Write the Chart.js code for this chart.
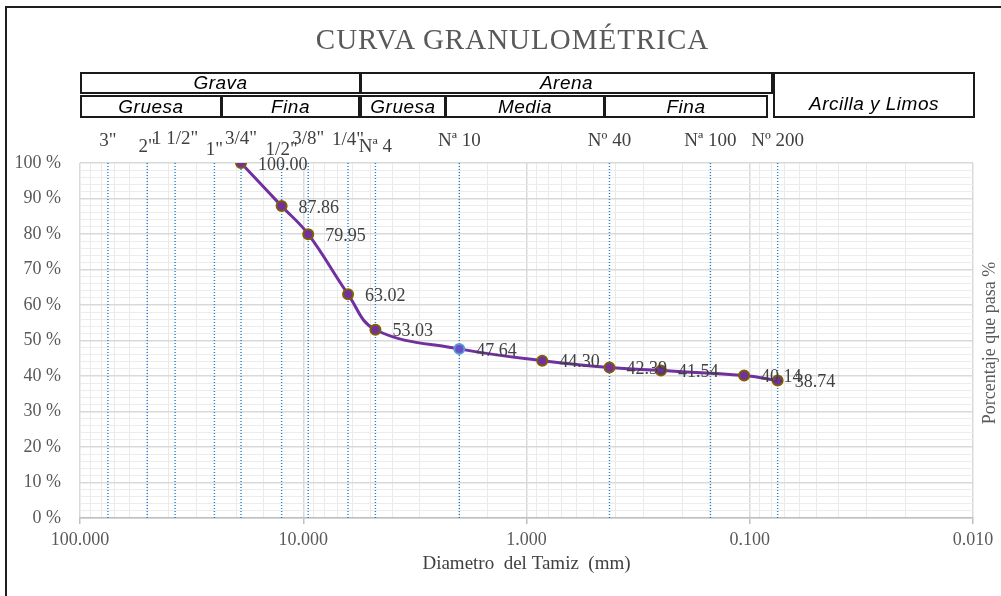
<!DOCTYPE html>
<html>
<head>
<meta charset="utf-8">
<script src="https://cdn.jsdelivr.net/npm/chart.js@4.4.0/dist/chart.umd.min.js"></script>
<style>
  body { margin:0; background:#fff; }
  #wrap { position:relative; width:1001px; height:596px; overflow:hidden; background:#fff; }
  #frame { position:absolute; left:5px; top:6px; width:1100px; height:700px; border:2px solid #1f1f1f; }
  canvas { position:absolute; left:0; top:0; }
  .title { position:absolute; left:24px; width:977px; top:25px; line-height:28px; text-align:center;
           font-family:'Liberation Serif', serif; font-size:29px; letter-spacing:1px; color:#595959; }
  .cell { position:absolute; box-sizing:border-box; border:2px solid #1a1a1a; display:flex;
          align-items:center; justify-content:center; font-family:'Liberation Sans', Arial, sans-serif;
          font-style:italic; font-size:19px; letter-spacing:0.5px; color:#000; }
</style>
</head>
<body>
<div id="wrap">
  <div id="frame"></div>
  <canvas id="chart" width="1001" height="596"></canvas>
  <div class="title">CURVA GRANULOMÉTRICA</div>

  <!-- soil classification table above the plot -->
  <div class="cell" style="left:80px; top:72px; width:281px; height:22px;">Grava</div>
  <div class="cell" style="left:360px; top:72px; width:413px; height:22px;">Arena</div>
  <div class="cell" style="left:773px; top:72px; width:202px; height:46px; align-items:flex-end; padding-bottom:1px;">Arcilla y Limos</div>
  <div class="cell" style="left:80px; top:95px; width:142px; height:23px;">Gruesa</div>
  <div class="cell" style="left:221px; top:95px; width:139px; height:23px;">Fina</div>
  <div class="cell" style="left:360px; top:95px; width:86px; height:23px;">Gruesa</div>
  <div class="cell" style="left:445px; top:95px; width:160px; height:23px;">Media</div>
  <div class="cell" style="left:604px; top:95px; width:164px; height:23px;">Fina</div>
</div>

<script>
// sample: sieve opening (mm) and % passing
const diameters = [19.0, 12.5, 9.5, 6.3, 4.75, 2.0, 0.85, 0.425, 0.25, 0.106, 0.075];
const passing   = [100.00, 87.86, 79.95, 63.02, 53.03, 47.64, 44.30, 42.39, 41.54, 40.14, 38.74];

// reference sieves (dotted lines + labels on top)
const sieveMm    = [75, 50, 37.5, 25, 19, 12.5, 9.5, 6.3, 4.75, 2.0, 0.425, 0.15, 0.075];
const sieveNames = ['3"', '2"', '1 1/2"', '1"', '3/4"', '1/2"', '3/8"', '1/4"', 'Nª 4', 'Nª 10', 'Nº 40', 'Nª 100', 'Nº 200'];

const SERIF = "'Liberation Serif', 'Times New Roman', serif";
const isDecade = v => Math.abs(Math.log10(v) - Math.round(Math.log10(v))) < 1e-6;

const overlay = {
  id: 'overlay',
  beforeDatasetsDraw(chart) {
    const { ctx, chartArea, scales: { x } } = chart;
    ctx.save();
    ctx.strokeStyle = '#1F7FD0';
    ctx.lineWidth = 1.4;
    ctx.setLineDash([1, 2]);
    sieveMm.forEach(d => {
      const px = x.getPixelForValue(d);
      ctx.beginPath();
      ctx.moveTo(px, chartArea.top);
      ctx.lineTo(px, chartArea.bottom);
      ctx.stroke();
    });
    ctx.restore();
  },
  afterDatasetsDraw(chart) {
    const { ctx, chartArea, scales: { x } } = chart;
    // staggered sieve names, like the Excel original
    const dy = [-22, -16, -24, -13, -24, -13, -24, -23, -16, -22, -22, -22, -22];
    ctx.save();
    ctx.font = '19px ' + SERIF;
    ctx.fillStyle = '#404040';
    ctx.textAlign = 'center';
    ctx.textBaseline = 'middle';
    sieveNames.forEach((n, i) => {
      ctx.fillText(n, x.getPixelForValue(sieveMm[i]), chartArea.top + dy[i]);
    });

    // value labels to the right of each point
    ctx.font = '18px ' + SERIF;
    ctx.textAlign = 'left';
    const meta = chart.getDatasetMeta(0);
    meta.data.forEach((pt, i) => {
      ctx.fillText(passing[i].toFixed(2), pt.x + 17, pt.y + 2);
    });

    // right side title, reading bottom to top
    ctx.translate(990, 343);
    ctx.rotate(-Math.PI / 2);
    ctx.textAlign = 'center';
    ctx.fillStyle = '#595959';
    ctx.fillText('Porcentaje que pasa %', 0, 0);
    ctx.restore();
  }
};

new Chart(document.getElementById('chart'), {
  type: 'line',
  data: {
    datasets: [{
      data: diameters.map((d, i) => ({ x: d, y: passing[i] })),
      borderColor: '#7030A0',
      borderWidth: 3,
      tension: 0.4,
      pointRadius: 5,
      pointBorderWidth: 2,
      pointBackgroundColor: c => c.dataIndex === 5 ? '#6A50C8' : '#7030A0',
      pointBorderColor: c => c.dataIndex === 5 ? '#5B9BD5' : '#7F6000',
      fill: false
    }]
  },
  options: {
    responsive: false,
    animation: false,
    layout: { padding: { top: 163, right: 28, left: 0, bottom: 0 } },
    plugins: { legend: { display: false }, tooltip: { enabled: false } },
    scales: {
      x: {
        type: 'logarithmic',
        reverse: true,
        min: 0.01,
        max: 100,
        afterFit: s => { s.height = 78; },
        ticks: {
          autoSkip: false, maxRotation: 0, minRotation: 0, padding: 5,
          color: '#595959', font: { family: SERIF, size: 18 },
          callback: v => isDecade(v) ? Number(v).toFixed(3) : ''
        },
        grid: {
          color: c => isDecade(c.tick.value) ? '#d9d9d9' : '#eaeaea',
          lineWidth: c => isDecade(c.tick.value) ? 1.5 : 1,
          tickLength: 6,
          tickColor: c => isDecade(c.tick.value) ? '#bfbfbf' : 'rgba(0,0,0,0)'
        },
        border: { color: '#bfbfbf', width: 1.5 },
        title: {
          display: true, text: 'Diametro  del Tamiz  (mm)', color: '#404040',
          font: { family: SERIF, size: 19 }, padding: { top: 0, bottom: 21 }
        }
      },
      y: {
        min: 0,
        max: 100,
        afterFit: s => { s.width = 80; },
        ticks: {
          stepSize: 2, autoSkip: false, padding: 19,
          color: '#595959', font: { family: SERIF, size: 18 },
          callback: v => v % 10 === 0 ? v + ' %' : ''
        },
        grid: {
          color: c => c.tick.value % 10 === 0 ? '#d9d9d9' : '#ececec',
          lineWidth: c => c.tick.value % 10 === 0 ? 1.5 : 1,
          drawTicks: false
        },
        border: { display: false }
      }
    }
  },
  plugins: [overlay]
});
</script>
</body>
</html>
